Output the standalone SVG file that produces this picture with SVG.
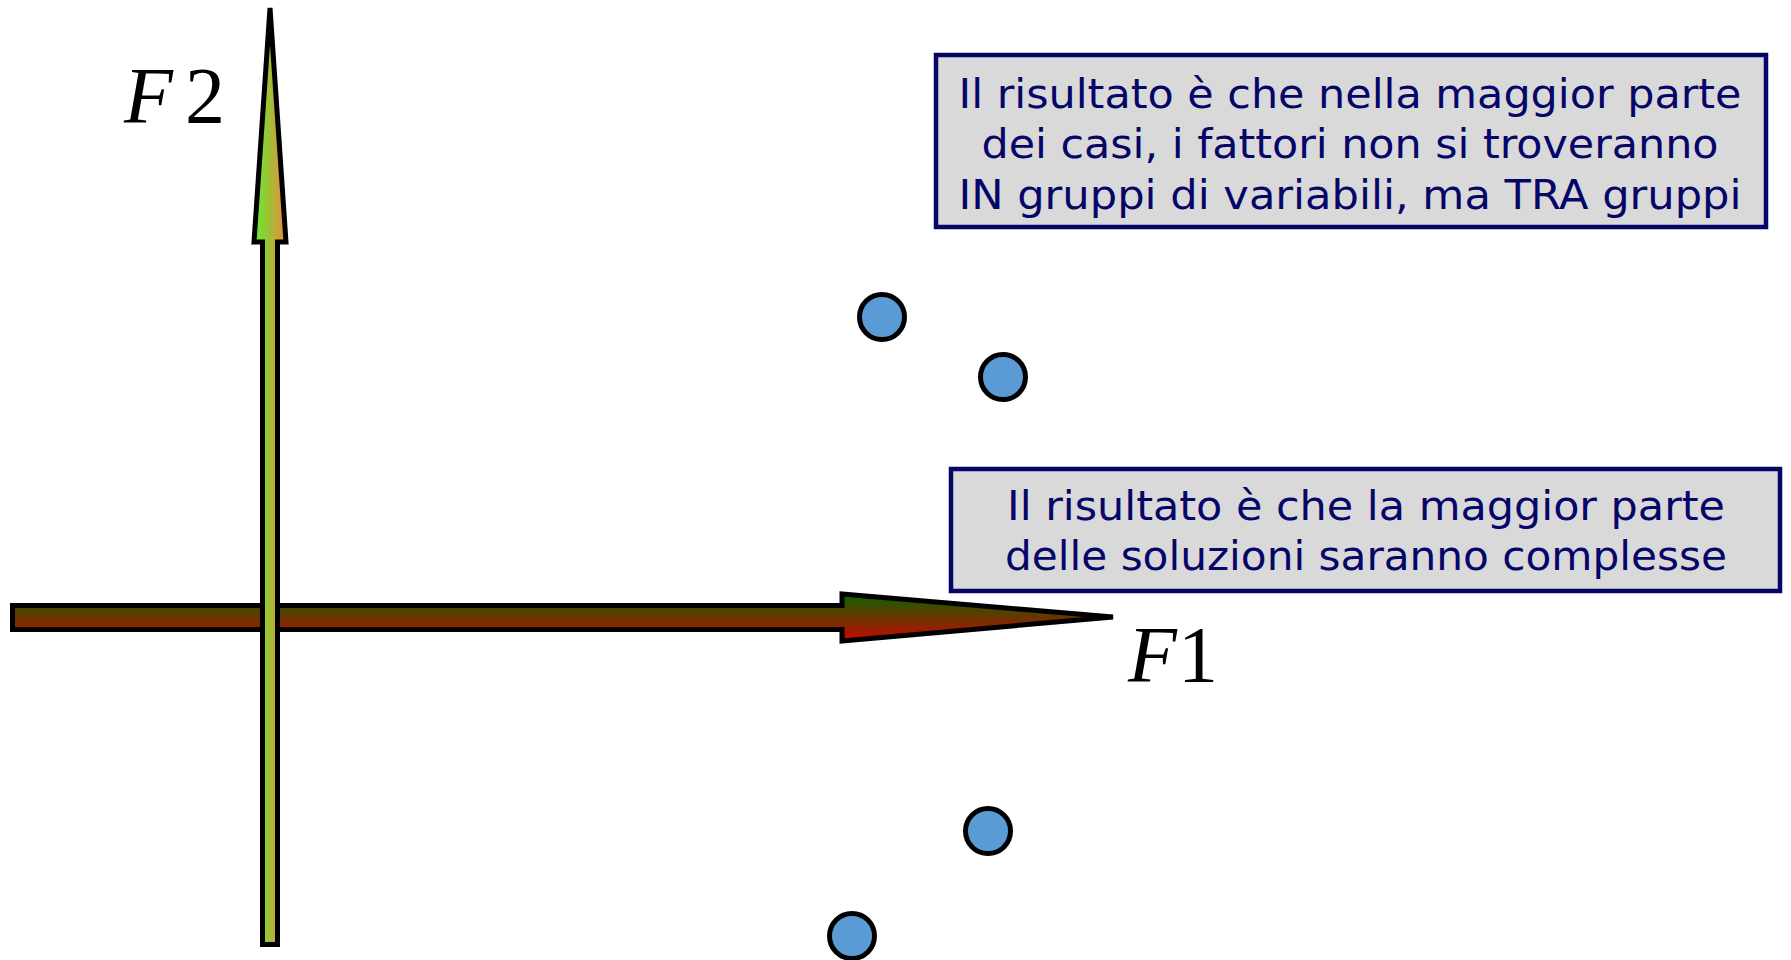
<svg xmlns="http://www.w3.org/2000/svg" width="1791" height="960" viewBox="0 0 1791 960">
<style>
.box{fill:#d9d9d9;stroke:#060668;stroke-width:4.5}
.txt{font-family:'DejaVu Sans Condensed','DejaVu Sans',sans-serif;font-size:41px;fill:#060668;text-anchor:middle}
.lab{font-family:'Liberation Serif','Times New Roman',serif;font-size:80px;fill:#000}
.dot{fill:#5b9bd5;stroke:#000;stroke-width:5}
.ax{stroke:#000;stroke-width:5;stroke-linejoin:miter}
</style>
<defs>
<linearGradient id="gH" x1="0" y1="0" x2="0" y2="1">
<stop offset="0" stop-color="#0c6400"/>
<stop offset="1" stop-color="#c80800"/>
</linearGradient>
<linearGradient id="gV" x1="0" y1="0" x2="1" y2="0">
<stop offset="0" stop-color="#60f030"/>
<stop offset="1" stop-color="#e88a3c"/>
</linearGradient>
</defs>
<g id="axes">
<path id="axisF1" class="ax" fill="url(#gH)" d="M12.5,605.5 L842,605.5 L842,594 L1113,617 L842,641 L842,629.5 L12.5,629.5 Z"/>
<path id="axisF2" class="ax" fill="url(#gV)" d="M262.5,944.5 L262.5,242 L254,242 L270,8 L286,242 L277.5,242 L277.5,944.5 Z"/>
</g>
<g id="labelF2"><text class="lab" y="123"><tspan x="124" font-style="italic">F</tspan><tspan x="185">2</tspan></text></g>
<g id="labelF1"><text class="lab" y="682"><tspan x="1128" font-style="italic">F</tspan><tspan x="1178">1</tspan></text></g>
<g id="points">
<circle id="p1" class="dot" cx="882" cy="317" r="22.5"/>
<circle id="p2" class="dot" cx="1003" cy="377" r="22.5"/>
<circle id="p3" class="dot" cx="988" cy="831" r="22.5"/>
<circle id="p4" class="dot" cx="852" cy="936" r="22.5"/>
</g>
<g id="box1">
<rect class="box" x="936" y="55" width="830" height="172"/>
<text class="txt" x="1350" y="108" textLength="783" lengthAdjust="spacingAndGlyphs">Il risultato è che nella maggior parte</text>
<text class="txt" x="1350" y="158" textLength="737" lengthAdjust="spacingAndGlyphs">dei casi, i fattori non si troveranno</text>
<text class="txt" x="1350" y="209" textLength="783" lengthAdjust="spacingAndGlyphs">IN gruppi di variabili, ma TRA gruppi</text>
</g>
<g id="box2">
<rect class="box" x="951" y="469" width="829" height="122"/>
<text class="txt" x="1366" y="520" textLength="718" lengthAdjust="spacingAndGlyphs">Il risultato è che la maggior parte</text>
<text class="txt" x="1366" y="570" textLength="722" lengthAdjust="spacingAndGlyphs">delle soluzioni saranno complesse</text>
</g>
</svg>
